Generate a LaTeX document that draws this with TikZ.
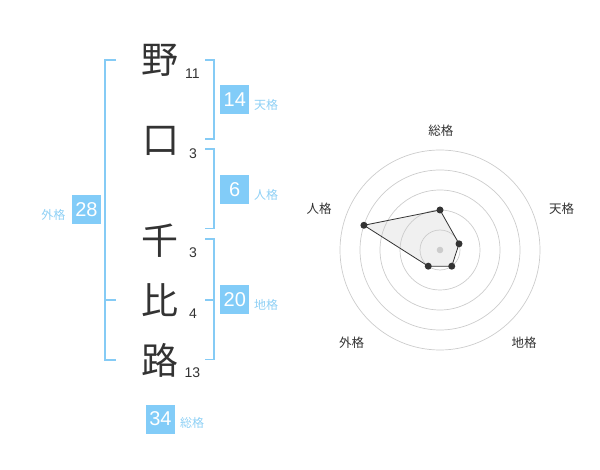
\documentclass[tikz,border=0pt]{standalone}
\usepackage{fontspec}
\setmainfont{Liberation Sans}
\newfontfamily\jp{Noto Sans CJK JP}
\usetikzlibrary{calc}
\definecolor{kanji}{HTML}{333333}
\definecolor{bluebox}{HTML}{82CCF8}
\definecolor{bluetext}{HTML}{8ED0F5}
\definecolor{bracketc}{HTML}{85CBF5}
\definecolor{gridc}{HTML}{CCCCCC}
\definecolor{polyfill}{HTML}{F0F0F0}
\tikzset{
 kanjinode/.style={font=\jp\fontsize{37}{37}\selectfont, text=kanji, inner sep=0},
 strokenum/.style={font=\fontsize{14}{14}\selectfont, text=kanji, inner sep=0},
 numbox/.style={fill=bluebox, text=white, minimum width=29pt, minimum height=29pt, inner sep=0, font=\fontsize{20}{20}\selectfont},
 kakulabel/.style={font=\jp\fontsize{12}{12}\selectfont, text=bluetext, inner sep=0},
 brk/.style={draw=bracketc, line width=1.7pt},
 ring/.style={draw=gridc, line width=0.7pt},
 radarlabel/.style={font=\jp\fontsize{12.5}{12.5}\selectfont, text=kanji, inner sep=0},
 vdot/.style={circle, fill=kanji, inner sep=0, minimum size=7pt},
 polyfillst/.style={fill=polyfill},
 polyline/.style={draw=kanji, line width=0.8pt},
}
\begin{document}
\begin{tikzpicture}[x=1pt,y=-1pt]
\useasboundingbox (0,0) rectangle (600,470);
% kanji
\node[kanjinode] (k1) at (160,60) {野};
\node[kanjinode] (k2) at (160.5,141) {口};
\node[kanjinode] (k3) at (160,241) {千};
\node[kanjinode] (k4) at (160,300) {比};
\node[kanjinode] (k5) at (160,360) {路};
% stroke counts
\node[strokenum] (s1) at (192.5,73.3) {11};
\node[strokenum] (s2) at (193,153.3) {3};
\node[strokenum] (s3) at (193,252.8) {3};
\node[strokenum] (s4) at (193,313.5) {4};
\node[strokenum] (s5) at (192.5,372.8) {13};
% left bracket (gaikaku)
\coordinate (la) at (116,60);
\coordinate (lb) at (116,360);
\coordinate (lm) at (116,300);
\draw[brk] (la) -- (105,60) -- (105,360) -- (lb);
\draw[brk] (105,300) -- (lm);
% right brackets
\coordinate (ta) at (205,60);
\coordinate (tb) at (205,139.3);
\draw[brk] (ta) -- (214.3,60) -- (214.3,139.3) -- (tb);
\coordinate (ja) at (205,149.3);
\coordinate (jb) at (205,228.5);
\draw[brk] (ja) -- (214.3,149.3) -- (214.3,228.5) -- (jb);
\coordinate (ca) at (205,239.3);
\coordinate (cb) at (205,359.5);
\coordinate (cm) at (205,300);
\draw[brk] (ca) -- (214.3,239.3) -- (214.3,359.5) -- (cb);
\draw[brk] (214.3,300) -- (cm);
% boxes and labels
\node[numbox] (b14) at (234.8,99.5) {14};
\node[kakulabel, anchor=west] (l14) at (254,104.5) {天格};
\node[numbox] (b6) at (234.8,190) {6};
\node[kakulabel, anchor=west] (l6) at (254,194.5) {人格};
\node[numbox] (b20) at (234.8,300) {20};
\node[kakulabel, anchor=west] (l20) at (254,304.5) {地格};
\node[numbox] (b28) at (86.5,210) {28};
\node[kakulabel] (l28) at (53.3,214.5) {外格};
\node[numbox] (b34) at (160.5,419) {34};
\node[kakulabel] (l34) at (192,423) {総格};
% radar
\coordinate (c) at (440,250);
\coordinate (p1) at ($(c)+(-90:40)$);
\coordinate (p2) at ($(c)+(-18:20)$);
\coordinate (p3) at ($(c)+(54:20)$);
\coordinate (p4) at ($(c)+(126:20)$);
\coordinate (p5) at ($(c)+(-162:80)$);
\fill[polyfillst] (p1) -- (p2) -- (p3) -- (p4) -- (p5) -- cycle;
\foreach \r in {20,40,60,80,100} \draw[ring] (c) circle (\r);
\fill[gridc] (c) circle (3.3);
\draw[polyline] (p1) -- (p2) -- (p3) -- (p4) -- (p5) -- cycle;
\foreach \p in {p1,p2,p3,p4,p5} \node[vdot] at (\p) {};
\node[radarlabel] (r1) at (440.8,130.8) {総格};
\node[radarlabel] (r2) at (561.7,208.8) {天格};
\node[radarlabel] (r3) at (524.2,342.5) {地格};
\node[radarlabel] (r4) at (351.7,342.5) {外格};
\node[radarlabel] (r5) at (319.2,208.8) {人格};
\end{tikzpicture}
\end{document}
